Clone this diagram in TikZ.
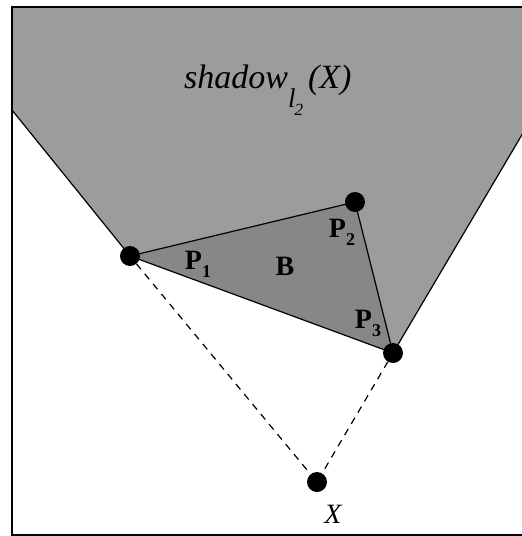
\documentclass[tikz,border=0pt]{standalone}
\usepackage{fontspec}
\setmainfont{Liberation Serif}
\definecolor{shadowgray}{HTML}{9C9C9C}
\definecolor{trigray}{HTML}{878787}
\begin{document}
\begin{tikzpicture}[x=1pt,y=-1pt,
  dot/.style={circle,fill=black,inner sep=0pt,minimum size=20pt},
  edge/.style={line width=1.2pt,black},
  dline/.style={line width=1.2pt,dash pattern=on 7pt off 6pt},
  lab/.style={font=\fontsize{28}{30}\selectfont\bfseries,inner sep=0pt},
  sub/.style={}]
\useasboundingbox (0,0) rectangle (522,536);
% points
\coordinate (tl) at (12,7);
\coordinate (tr) at (523,7);
\coordinate (rr) at (523,133);
\coordinate (ll) at (12,110);
\coordinate (cP1) at (130,256);
\coordinate (cP2) at (355,202);
\coordinate (cP3) at (393,353);
\coordinate (cX) at (317,482);
% shadow region
\fill[shadowgray] (tl) -- (tr) -- (rr) -- (cP3) -- (cP1) -- (ll) -- cycle;
\fill[trigray] (cP1) -- (cP2) -- (cP3) -- cycle;
\draw[edge] (ll) -- (cP1) -- (cP2) -- (cP3) -- (cP1);
\draw[edge] (cP3) -- (rr);
% frame
\draw[line width=1.5pt] (523,7) -- (12,7) -- (12,535) -- (523,535);
% dots
\node[dot] (p1) at (cP1) {};
\node[dot] (p2) at (cP2) {};
\node[dot] (p3) at (cP3) {};
\node[dot] (x) at (cX) {};
\draw[dline] (p1) -- (x);
\draw[dline] (p3) -- (x);
% labels
\node[lab] (l1) at (198,264) {P\raisebox{-8pt}{\fontsize{18}{18}\selectfont 1}};
\node[lab] (l2) at (342,232) {P\raisebox{-8pt}{\fontsize{18}{18}\selectfont 2}};
\node[lab] (l3) at (368,323) {P\raisebox{-8pt}{\fontsize{18}{18}\selectfont 3}};
\node[lab] (lb) at (285,266) {B};
\node[font=\fontsize{28}{30}\selectfont\itshape,inner sep=0pt] (lx) at (333,514) {X};
\node[font=\fontsize{34}{36}\selectfont\itshape,inner sep=0pt,anchor=base west] (title) at (184,88)
  {shadow\raisebox{-19pt}{\fontsize{27}{28}\selectfont l}\kern-1pt\raisebox{-27pt}{\fontsize{17}{18}\selectfont 2}\kern5pt(X)};
\end{tikzpicture}
\end{document}
